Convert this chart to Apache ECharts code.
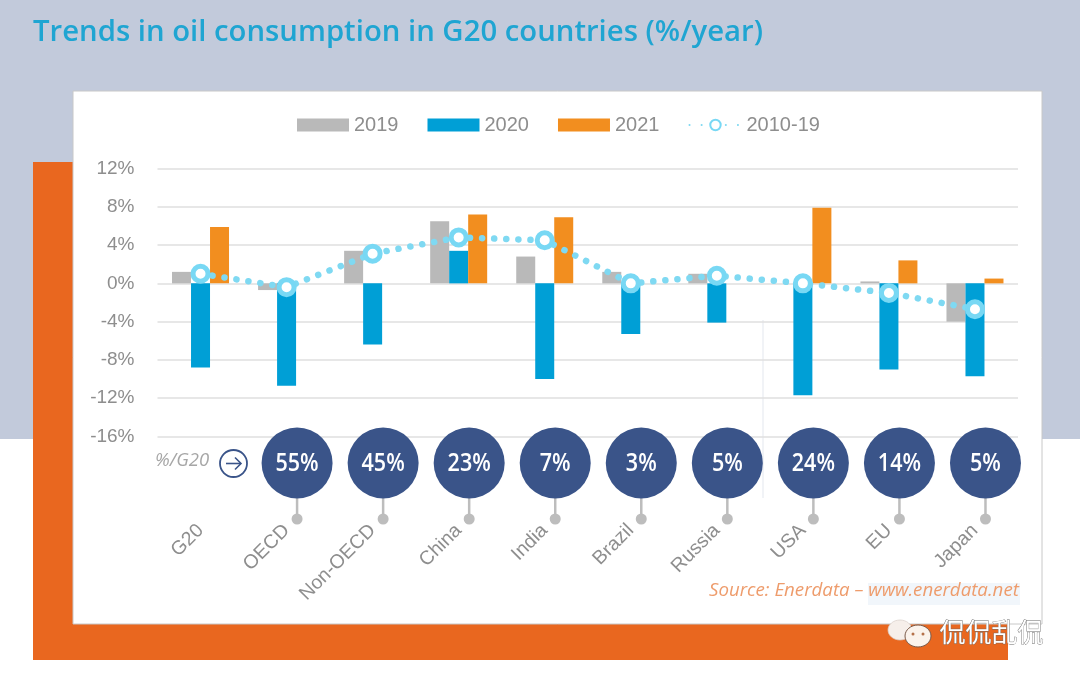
<!DOCTYPE html>
<html><head><meta charset="utf-8">
<style>html,body{margin:0;padding:0;background:#fff}#c{width:1080px;height:680px}</style>
<script src="https://cdn.jsdelivr.net/npm/echarts@6/dist/echarts.min.js"></script>
</head><body><div id="c"></div>
<script>
const categories = ['G20','OECD','Non-OECD','China','India','Brazil','Russia','USA','EU','Japan'];
const v2019 = [1.2,-0.7,3.4,6.5,2.8,1.2,1.0,null,0.2,-4.0];
const v2020 = [-8.8,-10.7,-6.4,3.4,-10.0,-5.3,-4.1,-11.7,-9.0,-9.7];
const v2021 = [5.9,null,null,7.2,6.9,null,null,7.9,2.4,0.5];
const v201019 = [1.0,-0.4,3.1,4.8,4.5,0.0,0.8,0.0,-1.0,-2.7];
const sharePct = [null,55,45,23,7,3,5,24,14,5];
const yTicks = [-16,-12,-8,-4,0,4,8,12];

const chart = echarts.init(document.getElementById('c'), null, {renderer:'canvas'});
const gray = '#8e8e8e';
const gL = 157.5, gW = 860.5;
chart.setOption({
  animation:false,
  backgroundColor:'#ffffff',
  title:{text:'Trends in oil consumption in G20 countries (%/year)',left:28,top:13,
    textStyle:{fontFamily:'Open Sans',fontWeight:600,fontSize:29.3,color:'#1fa5d2'}},
  legend:{left:292,top:110,itemWidth:52,itemHeight:13,itemGap:29,
    textStyle:{fontFamily:'Liberation Sans',fontSize:20,color:gray},
    data:[{name:'2019',icon:'rect'},{name:'2020',icon:'rect'},{name:'2021',icon:'rect'},{name:'2010-19'}]},
  grid:[
    {left:gL,width:gW,top:168.5,height:268},
    {left:gL+10.5,width:gW,top:463,height:56}
  ],
  xAxis:[
    {type:'category',gridIndex:0,data:categories,axisLine:{show:false,onZero:false},axisTick:{show:false},
     axisLabel:{rotate:45,margin:91,interval:0,fontFamily:'Liberation Sans',fontSize:19.5,color:gray}},
    {type:'category',gridIndex:1,data:categories,show:false}
  ],
  yAxis:[
    {type:'value',gridIndex:0,min:-16,max:12,interval:4,axisLine:{show:false},axisTick:{show:false},
     axisLabel:{margin:23,fontFamily:'Liberation Sans',fontSize:19,color:gray,formatter:v=>v+'%'},
     splitLine:{lineStyle:{color:'#dfdfdf',width:1.5}}},
    {type:'value',gridIndex:1,min:0,max:1,show:false}
  ],
  series:[
    {name:'2019',type:'bar',data:v2019,barWidth:19,barGap:'0%',itemStyle:{color:'#b9b9b9'},xAxisIndex:0,yAxisIndex:0},
    {name:'2020',type:'bar',data:v2020,barWidth:19,barGap:'0%',itemStyle:{color:'#009fd6'},xAxisIndex:0,yAxisIndex:0},
    {name:'2021',type:'bar',data:v2021,barWidth:19,barGap:'0%',itemStyle:{color:'#f28e1f'},xAxisIndex:0,yAxisIndex:0},
    {name:'2010-19',type:'line',data:v201019,z:5,xAxisIndex:0,yAxisIndex:0,
      symbol:'circle',symbolSize:15,
      itemStyle:{color:'#ffffff',borderColor:'#78d8f4',borderWidth:5},
      lineStyle:{color:'#7fd9f2',width:6.5,type:[0.1,12],cap:'round'}},
    {name:'share',type:'custom',xAxisIndex:1,yAxisIndex:1,coordinateSystem:'cartesian2d',z:6,clip:false,
      data:sharePct.map((s,i)=>[i,s]).filter(d=>d[1]!==null),
      renderItem:(params,api)=>{
        const top = api.coord([api.value(0),1]);
        const bot = api.coord([api.value(0),0]);
        return {type:'group',children:[
          {type:'line',shape:{x1:top[0],y1:top[1],x2:bot[0],y2:bot[1]},style:{stroke:'#bdbdbd',lineWidth:2.5}},
          {type:'circle',shape:{cx:bot[0],cy:bot[1],r:5.5},style:{fill:'#bdbdbd'}},
          {type:'circle',shape:{cx:top[0],cy:top[1],r:35.5},style:{fill:'#3a5489'}},
          {type:'text',x:top[0],y:top[1]+1,scaleX:0.86,style:{text:api.value(1)+'%',fill:'#fff',align:'center',verticalAlign:'middle',
            fontFamily:'Open Sans',fontWeight:600,fontSize:25}}
        ]};
      }}
  ],
  graphic:[
    {type:'group',z:-100,silent:true,children:[
      {type:'rect',z:-100,shape:{x:0,y:0,width:1080,height:439},style:{fill:'#c2cadb'}},
      {type:'rect',z:-99,shape:{x:33,y:162,width:975,height:498},style:{fill:'#e9671f'}},
      {type:'rect',z:-98,shape:{x:73,y:91,width:969,height:533},style:{fill:'#ffffff',stroke:'#c8c8c8',lineWidth:1}},
      {type:'rect',z:-97,shape:{x:868,y:583,width:152,height:22},style:{fill:'#f1f6fb'}},
      {type:'line',z:-97,shape:{x1:763,y1:320,x2:763,y2:498},style:{stroke:'#e3e7ee',lineWidth:1}}
    ]},
    {type:'text',left:155,top:451,z:20,style:{text:'%/G20',fontFamily:'Open Sans',fontStyle:'italic',fontSize:18.5,fill:'#a6a6a6'}},
    {type:'circle',z:20,shape:{cx:233.5,cy:463.5,r:13.5},style:{fill:'#fff',stroke:'#3a5489',lineWidth:1.8}},
    {type:'polyline',z:21,shape:{points:[[226,463.5],[241,463.5]]},style:{stroke:'#3a5489',lineWidth:1.6,fill:null}},
    {type:'polyline',z:21,shape:{points:[[235,457.5],[241,463.5],[235,469.5]]},style:{stroke:'#3a5489',lineWidth:1.6,fill:null}},
    {type:'text',left:709,top:581,z:20,style:{text:'Source: Enerdata \u2013 www.enerdata.net',fontFamily:'Open Sans',fontStyle:'italic',fontSize:18.7,fill:'#ee9c6c'}},
    {type:'ellipse',z:30,shape:{cx:900,cy:630,rx:12,ry:10},style:{fill:'#f6efea',stroke:'#d9cfc8',lineWidth:0.7}},
    {type:'ellipse',z:31,shape:{cx:918,cy:636,rx:13,ry:11},style:{fill:'#fbf3ec',stroke:'#7a5a48',lineWidth:1}},
    {type:'circle',z:32,shape:{cx:913,cy:634,r:1.5},style:{fill:'#b5714a'}},
    {type:'circle',z:32,shape:{cx:923,cy:634,r:1.5},style:{fill:'#b5714a'}},
    {type:'text',left:939,top:619,z:32,style:{text:'\u4F83\u4F83\u4E71\u4F83',fontFamily:'Noto Sans CJK SC',fontSize:26,fill:'#ffffff',stroke:'#6a6a6a',lineWidth:0.8}}
  ]
});
</script></body></html>
